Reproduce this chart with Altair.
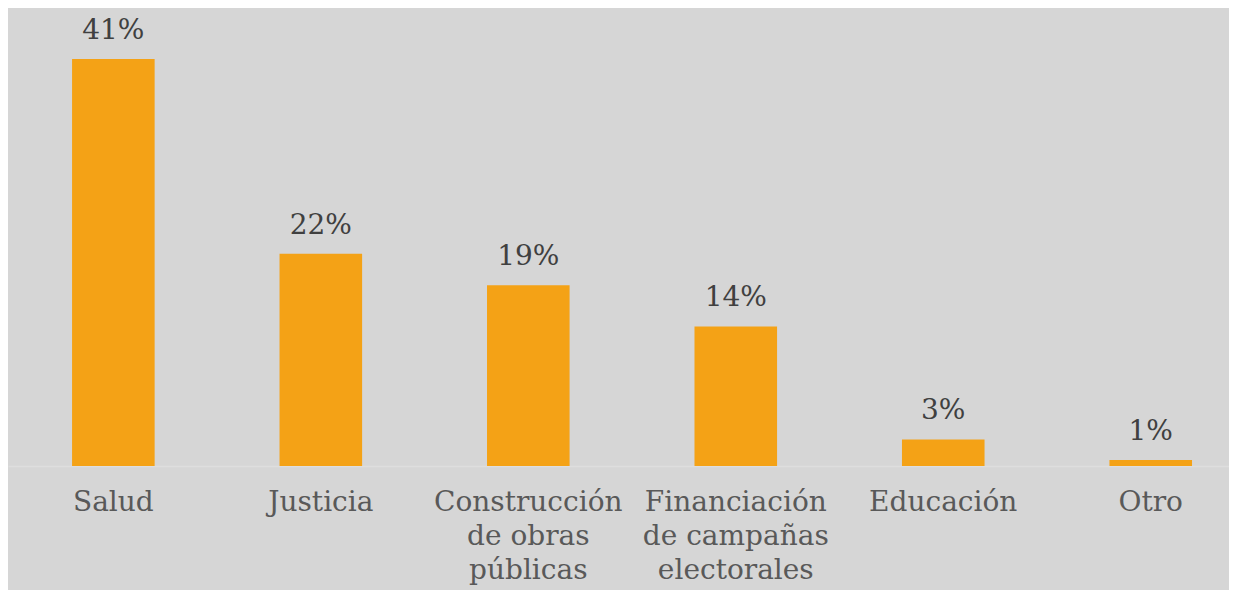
import altair as alt
import pandas as pd

categories = ["Salud", "Justicia", "Construcción\nde obras\npúblicas",
              "Financiación\nde campañas\nelectorales", "Educación", "Otro"]
values = [41.4, 21.6, 18.4, 14.2, 2.7, 0.6]
labels = ["41%", "22%", "19%", "14%", "3%", "1%"]

df = pd.DataFrame({"cat": categories, "val": values, "lab": labels})

FONT = "DejaVu Serif"

x = alt.X("cat:N", sort=categories, title=None,
          scale=alt.Scale(paddingInner=0.602, paddingOuter=0.2435, align=0.634),
          axis=alt.Axis(labelAngle=0, ticks=False, domainColor="#dedede", domainWidth=1.5,
                        labelFont=FONT, labelFontSize=28, labelColor="#595959",
                        labelLineHeight=34, labelPadding=22, labelExpr="split(datum.label, '\\n')",
                        labelLimit=400))
y = alt.Y("val:Q", title=None, scale=alt.Scale(domain=[0, 46.6], nice=False),
          axis=None)

bars = alt.Chart(df).mark_bar(color="#F4A216").encode(x=x, y=y)
text = alt.Chart(df).mark_text(font=FONT, fontSize=28, color="#404040", dy=-20,
                               baseline="alphabetic").encode(x=x, y=y, text="lab:N")

chart = (bars + text).properties(
    width=1221, height=458,
    background="#d6d6d6",
    padding={"left": 0, "top": 0, "right": 0, "bottom": 124},
    autosize=alt.AutoSizeParams(type="none"),
).configure_view(stroke=None)

chart.save("out.html", embed_options={"renderer": "svg", "actions": False})
